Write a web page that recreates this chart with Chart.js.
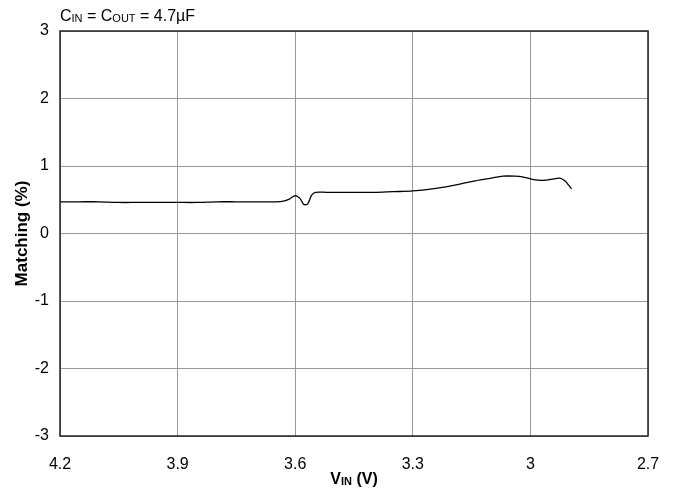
<!DOCTYPE html>
<html lang="en">
	<head>
		<meta charset="UTF-8" />
		<title>Matching vs VIN</title>
		<script src="https://cdn.jsdelivr.net/npm/chart.js"></script>
		<style>
			body { margin: 0; background: #fff; }
			#wrap { position: relative; width: 676px; height: 490px; font-family: "Liberation Sans", Arial, sans-serif; }
			#note { position: absolute; left: 60px; top: 7px; font-size: 16px; color: #000; }
			#xtitle { position: absolute; left: 0; width: 708px; text-align: center; top: 470px; font-size: 16px; font-weight: bold; color: #000; }
			sub { font-size: 11px; vertical-align: -1px; }
		</style>
	</head>
	<body>
		<div id="wrap">
			<canvas id="chart" width="676" height="490"></canvas>
			<div id="note">C<sub>IN</sub> = C<sub>OUT</sub> = 4.7µF</div>
			<div id="xtitle">V<sub>IN</sub> (V)</div>
		</div>
		<script>
			// data
			const vin = [4.2, 4.15, 4.1, 4.05, 4.0, 3.95, 3.9, 3.85, 3.8, 3.75, 3.7, 3.65, 3.63, 3.615, 3.6, 3.588, 3.578, 3.568, 3.558, 3.548, 3.52, 3.48, 3.44, 3.4, 3.35, 3.3, 3.25, 3.2, 3.15, 3.1, 3.07, 3.04, 3.02, 3.0, 2.98, 2.96, 2.94, 2.925, 2.912, 2.903, 2.895];
			const matching = [0.47, 0.47, 0.47, 0.46, 0.46, 0.46, 0.46, 0.46, 0.47, 0.47, 0.47, 0.47, 0.48, 0.51, 0.56, 0.52, 0.43, 0.44, 0.57, 0.61, 0.61, 0.61, 0.61, 0.61, 0.62, 0.63, 0.66, 0.71, 0.77, 0.82, 0.85, 0.85, 0.84, 0.81, 0.79, 0.79, 0.81, 0.82, 0.78, 0.72, 0.66];
			const xTicks = [4.2, 3.9, 3.6, 3.3, 3.0, 2.7];
			const yTicks = [-3, -2, -1, 0, 1, 2, 3];

			// box round the plot area
			const frame = {
				id: "frame",
				afterDraw(chart) {
					const a = chart.chartArea;
					const ctx = chart.ctx;
					ctx.save();
					ctx.strokeStyle = "#222";
					ctx.lineWidth = 1.5;
					ctx.strokeRect(a.left, a.top, a.right - a.left, a.bottom - a.top);
					ctx.restore();
				},
			};

			new Chart(document.getElementById("chart"), {
				type: "line",
				data: {
					datasets: [
						{
							data: vin.map((v, i) => ({ x: v, y: matching[i] })),
							borderColor: "#000",
							borderWidth: 1.3,
							pointRadius: 0,
							tension: 0.3,
							fill: false,
						},
					],
				},
				options: {
					responsive: false,
					animation: false,
					layout: { padding: { top: 31, right: 28, left: 0, bottom: 0 } },
					plugins: { legend: { display: false }, tooltip: { enabled: false } },
					scales: {
						x: {
							type: "linear",
							reverse: true,
							min: 2.7,
							max: 4.2,
							afterBuildTicks: (s) => { s.ticks = xTicks.map((v) => ({ value: v })); },
							afterFit: (s) => {
								s.height = 54;
								s.paddingLeft = 0;
								s.paddingRight = 0;
							},
							ticks: {
								color: "#000",
								padding: 19,
								font: { family: "Liberation Sans", size: 16 },
								callback: (v) => String(+v.toFixed(1)),
							},
							grid: { color: "#999", drawTicks: false },
							border: { display: false },
						},
						y: {
							min: -3,
							max: 3,
							afterBuildTicks: (s) => { s.ticks = yTicks.map((v) => ({ value: v })); },
							afterFit: (s) => {
								s.width = 60;
								s.paddingTop = 0;
								s.paddingBottom = 0;
							},
							ticks: {
								color: "#000",
								padding: 11,
								font: { family: "Liberation Sans", size: 16 },
							},
							grid: { color: "#999", drawTicks: false },
							border: { display: false },
							title: {
								display: true,
								text: "Matching (%)",
								color: "#000",
								font: { family: "Liberation Sans", size: 17, weight: "bold" },
								padding: { top: 12, bottom: 0 },
							},
						},
					},
				},
				plugins: [frame],
			});
		</script>
	</body>
</html>
